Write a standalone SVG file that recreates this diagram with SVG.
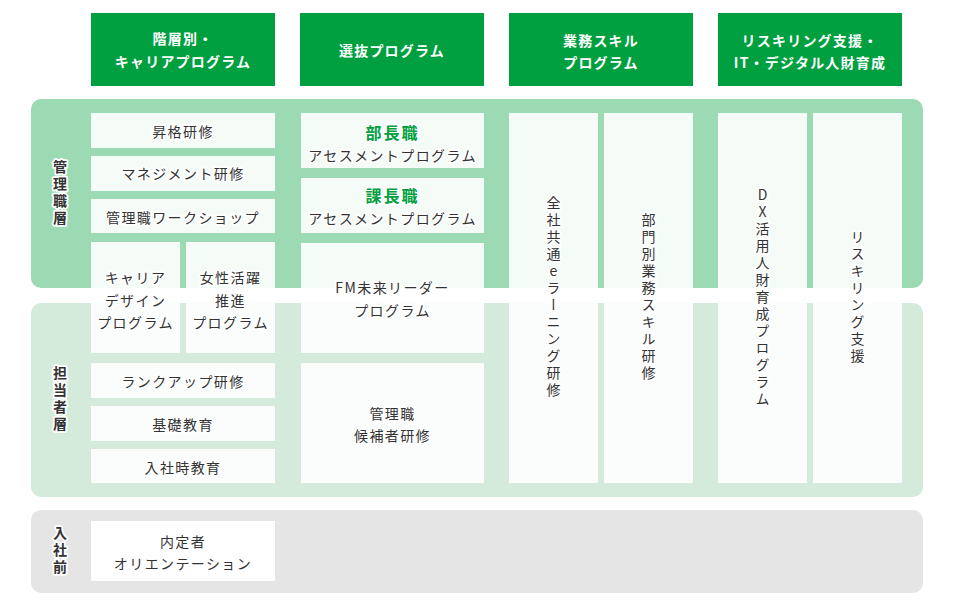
<svg xmlns="http://www.w3.org/2000/svg" width="954" height="606" viewBox="0 0 954 606">
<style>
text{font-family:"Noto Sans CJK JP","Noto Sans",sans-serif;font-size:14px;fill:#333;letter-spacing:1.4px;text-anchor:middle;dominant-baseline:central;}
.h{fill:#00A040;}
.ht{fill:#fff;font-weight:bold;letter-spacing:1.2px;}
.bx{fill:#fff;fill-opacity:0.9;}
.t{stroke:#fff;stroke-width:3.5px;stroke-linejoin:round;paint-order:stroke;}
.g{fill:#00A040;font-weight:bold;font-size:16px;letter-spacing:2px;}
.v{writing-mode:vertical-rl;text-orientation:upright;letter-spacing:3px;}
.lab{font-weight:bold;}
</style>
<rect width="954" height="606" fill="#fff"/>
<g id="headers">
<g id="h1"><rect class="h" x="91" y="13" width="184" height="73"/><text class="ht" x="183" y="38">階層別・</text><text class="ht" x="183" y="61">キャリアプログラム</text></g>
<g id="h2"><rect class="h" x="300" y="13" width="184" height="73"/><text class="ht" x="392" y="50">選抜プログラム</text></g>
<g id="h3"><rect class="h" x="509" y="13" width="184" height="73"/><text class="ht" x="601" y="40">業務スキル</text><text class="ht" x="601" y="62">プログラム</text></g>
<g id="h4"><rect class="h" x="718" y="13" width="184" height="73"/><text class="ht" x="810" y="40">リスキリング支援・</text><text class="ht" x="810" y="62">IT・デジタル人財育成</text></g>
</g>
<g id="bands">
<rect id="band-mgr" x="31" y="99" width="892" height="189" rx="10" fill="#9CDAB4"/>
<rect id="band-staff" x="31" y="303" width="892" height="194" rx="10" fill="#D4EBDC"/>
<rect id="band-pre" x="31" y="510" width="892" height="83" rx="10" fill="#E5E5E5"/>
<text class="lab v t" x="60" y="194">管理職層</text>
<text class="lab v t" x="60" y="400">担当者層</text>
<text class="lab v t" x="60" y="551">入社前</text>
</g>
<g id="n-shokaku"><rect class="bx" x="91" y="113" width="184" height="35"/><text class="t" x="183" y="131">昇格研修</text></g>
<g id="n-mgmt"><rect class="bx" x="91" y="156" width="184" height="35"/><text class="t" x="183" y="173">マネジメント研修</text></g>
<g id="n-ws"><rect class="bx" x="91" y="199" width="184" height="34"/><text class="t" x="183" y="217">管理職ワークショップ</text></g>
<g id="n-career"><rect class="bx" x="91" y="242" width="89" height="111"/><text class="t" x="135.5" y="277">キャリア</text><text class="t" x="135.5" y="299.5">デザイン</text><text class="t" x="135.5" y="322">プログラム</text></g>
<g id="n-women"><rect class="bx" x="186" y="242" width="89" height="111"/><text class="t" x="230.5" y="277">女性活躍</text><text class="t" x="230.5" y="299.5">推進</text><text class="t" x="230.5" y="322">プログラム</text></g>
<g id="n-rankup"><rect class="bx" x="91" y="363" width="184" height="35"/><text class="t" x="183" y="381">ランクアップ研修</text></g>
<g id="n-kiso"><rect class="bx" x="91" y="406" width="184" height="35"/><text class="t" x="183" y="424">基礎教育</text></g>
<g id="n-nyusha"><rect class="bx" x="91" y="449" width="184" height="34"/><text class="t" x="183" y="467">入社時教育</text></g>
<g id="n-bucho"><rect class="bx" x="301" y="113" width="183" height="55"/><text class="t g" x="392.5" y="132">部長職</text><text class="t" x="392.5" y="155">アセスメントプログラム</text></g>
<g id="n-kacho"><rect class="bx" x="301" y="178" width="183" height="55"/><text class="t g" x="392.5" y="195">課長職</text><text class="t" x="392.5" y="218">アセスメントプログラム</text></g>
<g id="n-fm"><rect class="bx" x="301" y="243" width="183" height="110"/><text class="t" x="392.5" y="287">FM未来リーダー</text><text class="t" x="392.5" y="310">プログラム</text></g>
<g id="n-kouho"><rect class="bx" x="301" y="363" width="183" height="120"/><text class="t" x="392.5" y="413">管理職</text><text class="t" x="392.5" y="435">候補者研修</text></g>
<g id="n-elearn"><rect class="bx" x="509" y="113" width="89" height="370"/><text class="t v" x="553.5" y="298">全社共通eラーニング研修</text></g>
<g id="n-bumon"><rect class="bx" x="604" y="113" width="89" height="370"/><text class="t v" x="648.5" y="298">部門別業務スキル研修</text></g>
<g id="n-dx"><rect class="bx" x="718" y="113" width="89" height="370"/><text class="t v" x="762.5" y="298">DX活用人財育成プログラム</text></g>
<g id="n-reskill"><rect class="bx" x="813" y="113" width="89" height="370"/><text class="t v" x="857.5" y="298">リスキリング支援</text></g>
<g id="n-naitei"><rect fill="#fff" x="91" y="521" width="184" height="60"/><text x="183" y="541">内定者</text><text x="183" y="563">オリエンテーション</text></g>
<g id="connectors"/>
</svg>
